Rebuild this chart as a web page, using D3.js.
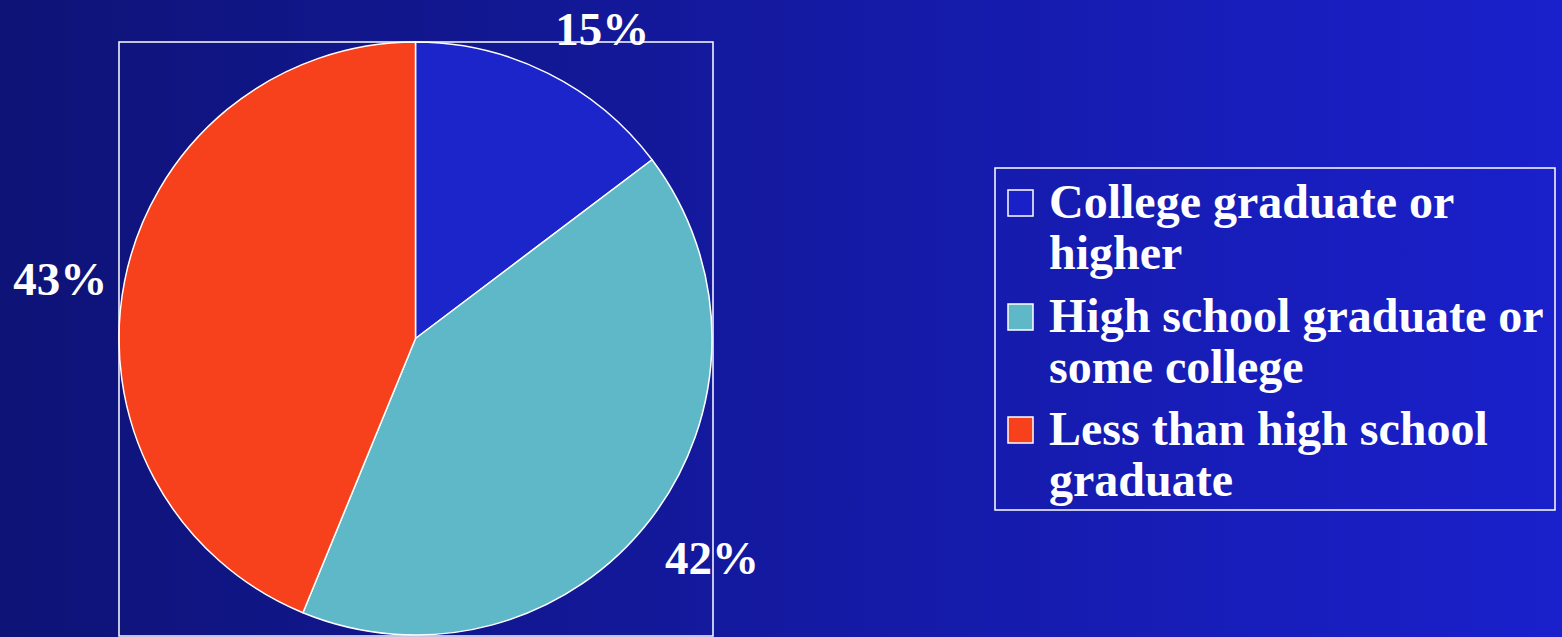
<!DOCTYPE html>
<html>
<head>
<meta charset="utf-8">
<script src="https://cdn.jsdelivr.net/npm/d3@7"></script>
<style>
  html, body { margin: 0; padding: 0; overflow: hidden; }
  svg { display: block; }
</style>
</head>
<body>
<svg id="chart" width="1562" height="637"></svg>
<script>
const categories = ["College graduate or higher", "High school graduate or some college", "Less than high school graduate"];
const legendLines = [["College graduate or", "higher"], ["High school graduate or", "some college"], ["Less than high school", "graduate"]];
const values = [14.7, 41.5, 43.8];
const valueLabels = ["15%", "42%", "43%"];
const colors = ["#1b25c9", "#5fb8c8", "#f7401c"];

const W = 1562, H = 637;
const svg = d3.select("#chart");
const font = "'Liberation Serif', 'Times New Roman', serif";

// background gradient
const defs = svg.append("defs");
const grad = defs.append("linearGradient").attr("id", "bg").attr("x1", "0%").attr("x2", "100%").attr("y1", "0%").attr("y2", "0%");
grad.append("stop").attr("offset", "0%").attr("stop-color", "#0e1377");
grad.append("stop").attr("offset", "100%").attr("stop-color", "#1a20cb");
svg.append("rect").attr("width", W).attr("height", H).attr("fill", "url(#bg)");

// plot frame
const frame = { x: 119, y: 42, w: 594, h: 594 };
const cx = 415.5, cy = 338.5;
const R = 296.5;

const pie = d3.pie().sort(null).value(d => d)(values);
const arc = d3.arc().innerRadius(0).outerRadius(R);
const labelArc = d3.arc().innerRadius(363).outerRadius(363);
// manual label nudges (layout only), like dragged data labels
const labelNudge = [[25, 15], [9, -2], [1, 11]];

const g = svg.append("g").attr("transform", `translate(${cx},${cy})`);
g.selectAll("path.slice").data(pie).join("path")
  .attr("class", "slice")
  .attr("d", arc)
  .attr("fill", (d, i) => colors[i])
  .attr("stroke", "#ffffff")
  .attr("stroke-width", 1.5)
  .attr("stroke-linejoin", "round");

svg.append("rect")
  .attr("x", frame.x).attr("y", frame.y).attr("width", frame.w).attr("height", frame.h)
  .attr("fill", "none").attr("stroke", "#ffffff").attr("stroke-width", 1.5);

const lblG = svg.append("g").attr("transform", `translate(${cx},${cy})`);
lblG.selectAll("text.lbl").data(pie).join("text")
  .attr("class", "lbl")
  .attr("transform", (d, i) => {
    const c = labelArc.centroid(d);
    return `translate(${c[0] + labelNudge[i][0]},${c[1] + labelNudge[i][1]})`;
  })
  .attr("text-anchor", "middle")
  .attr("dominant-baseline", "central")
  .attr("font-family", font)
  .attr("font-weight", "bold")
  .attr("font-size", 47)
  .attr("fill", "#ffffff")
  .text((d, i) => valueLabels[i]);

// legend
const lg = svg.append("g");
lg.append("rect").attr("x", 995).attr("y", 168).attr("width", 560).attr("height", 342)
  .attr("fill", "none").attr("stroke", "#ffffff").attr("stroke-width", 1.5);
const itemY = [218, 332, 445];
const lineH = 51;
categories.forEach((c, i) => {
  lg.append("rect")
    .attr("x", 1008).attr("y", itemY[i] - 28).attr("width", 25).attr("height", 26)
    .attr("fill", i === 0 ? "#1a20c8" : colors[i])
    .attr("stroke", "#ffffff").attr("stroke-width", 1.5);
  const t = lg.append("text")
    .attr("x", 1049).attr("y", itemY[i])
    .attr("font-family", font).attr("font-weight", "bold").attr("font-size", 48)
    .attr("fill", "#ffffff");
  legendLines[i].forEach((ln, j) => {
    t.append("tspan").attr("x", 1049).attr("y", itemY[i] + j * lineH).text(ln);
  });
});
</script>
</body>
</html>
